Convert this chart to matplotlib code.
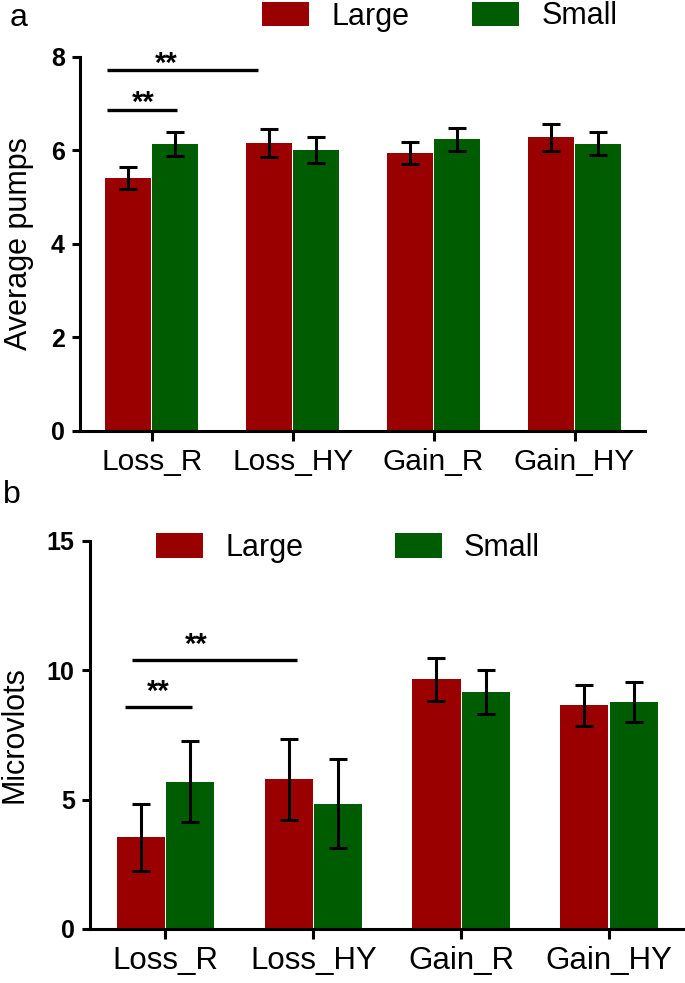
import matplotlib
matplotlib.use("Agg")
import matplotlib.pyplot as plt
import numpy as np

plt.rcParams['font.family'] = ['Liberation Sans', 'DejaVu Sans']

categories = ["Loss_R", "Loss_HY", "Gain_R", "Gain_HY"]
groups = ["Large", "Small"]
colors = ["#9a0000", "#005c00"]

# panel a: average pumps (mean, sem)
pumps_large = [5.41, 6.15, 5.94, 6.28]
pumps_large_err = [0.23, 0.30, 0.24, 0.29]
pumps_small = [6.13, 6.00, 6.23, 6.14]
pumps_small_err = [0.25, 0.28, 0.25, 0.24]

# panel b: microvolts (mean, sem)
volts_large = [3.55, 5.78, 9.65, 8.65]
volts_large_err = [1.30, 1.55, 0.83, 0.80]
volts_small = [5.70, 4.85, 9.18, 8.78]
volts_small_err = [1.55, 1.72, 0.85, 0.77]

# significance brackets: (x start, x end, height, label)
pumps_sig = [(-0.32, 0.755, 7.71, "**"), (-0.32, 0.177, 6.86, "**")]
volts_sig = [(-0.226, 0.892, 10.40, "**"), (-0.270, 0.182, 8.58, "**")]
pumps_star_x = [0.10, -0.06]
volts_star_x = [0.21, -0.047]


def draw_panel(ax, large, large_err, small, small_err, ylim, yticks,
               ylabel, sigs, star_x, star_off, xfs):
    x = np.arange(len(categories))
    w = 0.325
    b1 = ax.bar(x - 0.167, large, w, color=colors[0], label=groups[0],
                yerr=large_err, capsize=6.5,
                error_kw=dict(elinewidth=2.2, capthick=2.2, ecolor="black"))
    b2 = ax.bar(x + 0.167, small, w, color=colors[1], label=groups[1],
                yerr=small_err, capsize=6.5,
                error_kw=dict(elinewidth=2.2, capthick=2.2, ecolor="black"))
    ax.set_xlim(-0.51, 3.5)
    ax.set_ylim(*ylim)
    ax.set_yticks(yticks)
    ax.set_xticks(x)
    ax.set_xticklabels(categories, fontsize=xfs)
    for lab in ax.get_yticklabels():
        lab.set_fontweight("bold")
        lab.set_fontsize(18)
    ax.set_ylabel(ylabel, fontsize=22)
    for s in ["top", "right"]:
        ax.spines[s].set_visible(False)
    for s in ["left", "bottom"]:
        ax.spines[s].set_linewidth(2.2)
    ax.tick_params(axis="y", width=2.2, length=6, pad=5)
    ax.tick_params(axis="x", width=2.2, length=7.5, pad=5)
    for (x0, x1, h, lab), sx in zip(sigs, star_x):
        ax.plot([x0, x1], [h, h], color="black", lw=2.4, solid_capstyle="butt",
                clip_on=False)
        ax.annotate(lab, (sx, h), xytext=(0, star_off), textcoords="offset points",
                    ha="center", va="baseline", fontsize=21, fontweight="bold")
    return b1, b2


fig = plt.figure(figsize=(6.85, 9.83), dpi=100)
W, H = 685.0, 983.0

ax1 = fig.add_axes([80 / W, 1 - 430.7 / H, 565 / W, 374 / H])
ax2 = fig.add_axes([90 / W, 1 - 929 / H, 593 / W, 388 / H])

h1 = draw_panel(ax1, pumps_large, pumps_large_err, pumps_small, pumps_small_err,
                (0, 8), [0, 2, 4, 6, 8], "Average pumps", pumps_sig,
                pumps_star_x, -1, 21.5)
h2 = draw_panel(ax2, volts_large, volts_large_err, volts_small, volts_small_err,
                (0, 15), [0, 5, 10, 15], "Microvlots", volts_sig,
                volts_star_x, 5, 22.5)

ax1.yaxis.set_label_coords((34 - 80) / 565, 0.5)
ax2.yaxis.set_label_coords((29 - 90) / 593, 0.5)

fig.legend(h1, groups, loc="center left", bbox_to_anchor=(262 / W, 1 - 16.5 / H),
           ncol=2, frameon=False, fontsize=22, borderpad=0, borderaxespad=0,
           handlelength=1.54, handleheight=0.85, handletextpad=0.72,
           columnspacing=2.07)
fig.legend(h2, groups, loc="center left", bbox_to_anchor=(156 / W, 1 - 548 / H),
           ncol=2, frameon=False, fontsize=22, borderpad=0, borderaxespad=0,
           handlelength=1.54, handleheight=0.85, handletextpad=0.72,
           columnspacing=3.0)

fig.text(10 / W, 1 - 18 / H, "a", fontsize=23, va="center", ha="left")
fig.text(3 / W, 1 - 495 / H, "b", fontsize=23, va="center", ha="left")

fig.savefig("out.png", dpi=100)
